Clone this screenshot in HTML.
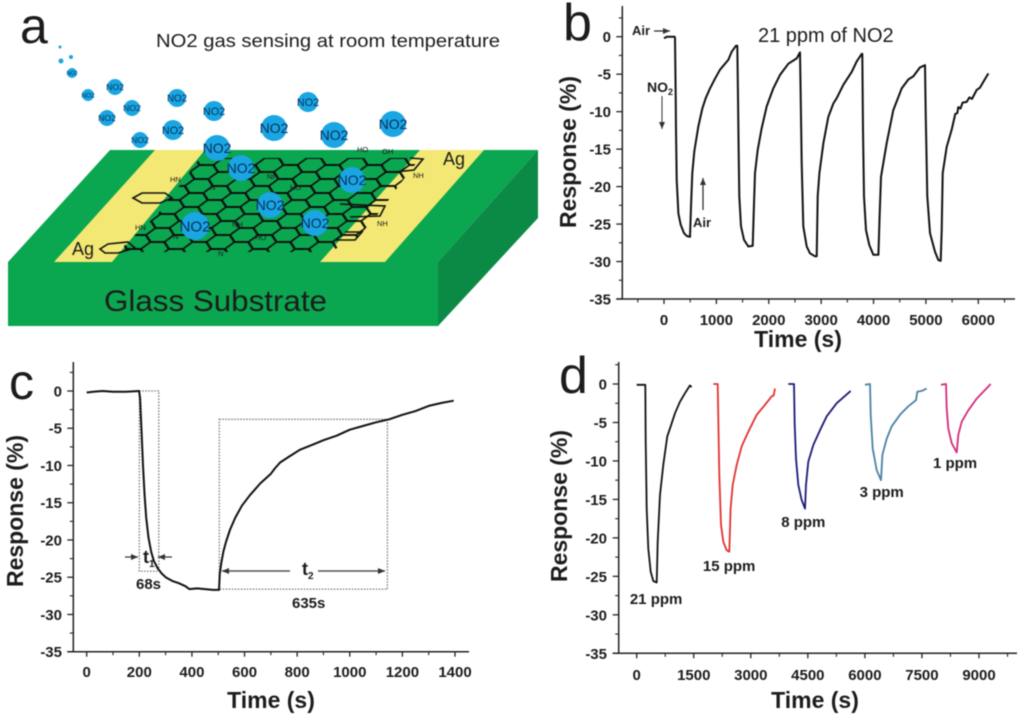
<!DOCTYPE html>
<html lang="en">
<head>
<meta charset="utf-8">
<title>NO2 gas sensing figure</title>
<style>
html,body{margin:0;padding:0;background:#fff;}
body{width:1024px;height:718px;overflow:hidden;}
svg{display:block;filter:blur(0.6px);}
text{font-family:"Liberation Sans",sans-serif;fill:#1c1c1c;}
.b{font-weight:bold;}
</style>
</head>
<body>
<svg id="fig" xmlns="http://www.w3.org/2000/svg" width="1024" height="718" viewBox="0 0 1024 718">
<defs>
<pattern id="hexes" width="42" height="14" patternUnits="userSpaceOnUse" patternTransform="translate(6 158) skewX(-20)">
<path d="M0,7 L7,0 L21,0 L28,7 L21,14 L7,14 Z M28,7 L42,7" fill="none" stroke="#0c0c0c" stroke-width="1.9"/>
</pattern>
<marker id="ah" markerWidth="8" markerHeight="8" refX="7" refY="3" orient="auto" markerUnits="userSpaceOnUse"><path d="M0,0 L7,3 L0,6 Z" fill="#333"/></marker>
</defs>
<rect width="1024" height="718" fill="#fff"/>

<g id="panel-a">
<text x="20" y="43" font-size="50">a</text>
<text x="156" y="47" font-size="18.5" textLength="344" lengthAdjust="spacingAndGlyphs">NO2 gas sensing at room temperature</text>
<polygon points="110,150 538,150 438,262 8,262" fill="#0aa650"/>
<polygon points="8,262 438,262 438,326 8,326" fill="#0aa650"/>
<polygon points="438,262 538,150 538,218 438,326" fill="#0b8a46"/>
<polygon points="155,150 205,150 112,262 54,262" fill="#f3e873"/>
<polygon points="420,150 484,150 385,262 320,262" fill="#f3e873"/>
<polygon points="200,158 420,158 397,188 383,208 360,235 330,252 118,252 140,230 157,215 180,185" fill="url(#hexes)"/>
<path d="M133,198 L142,193 L165,193 L172,198 L160,203 L142,203 Z M100,249 L108,244 L128,242 L135,248 L118,253 L105,253 Z M410,158 L423,159 L414,170 L395,172 M340,204 L385,206 L380,216 L350,217 M345,232 L362,232 L355,240 L335,240" fill="none" stroke="#111" stroke-width="1.6"/>
<text x="443" y="165" font-size="18">Ag</text>
<text x="72" y="255" font-size="18">Ag</text>
<text x="104" y="311" font-size="30" textLength="223" lengthAdjust="spacingAndGlyphs">Glass Substrate</text>
<g font-size="7.5">
<text x="170" y="182">HN</text><text x="267" y="179">NH</text><text x="413" y="178">NH</text>
<text x="377" y="226">NH</text><text x="135" y="230">HN</text><text x="232" y="227">NH</text>
<text x="210" y="190">N</text><text x="173" y="239">N</text><text x="218" y="256">N</text>
<text x="357" y="152">HO</text><text x="382" y="154">OH</text><text x="290" y="190">HO</text><text x="255" y="240">HO</text>
</g>
<g id="molecules"></g>
</g>

<g id="panel-b">
<text x="563" y="40" font-size="52">b</text>
<text x="758" y="42" font-size="20">21 ppm of NO2</text>
<text x="632" y="35" font-size="13" class="b">Air</text>
<line x1="654" y1="31" x2="670" y2="31" stroke="#222" stroke-width="1.2" marker-end="url(#ah)"/>
<text x="647" y="92" font-size="14" class="b">NO<tspan font-size="9" dy="3">2</tspan></text>
<line x1="662" y1="96" x2="662" y2="129" stroke="#333" stroke-width="1" marker-end="url(#ah)"/>
<text x="693" y="227" font-size="13" class="b">Air</text>
<line x1="703" y1="210" x2="703" y2="178" stroke="#222" stroke-width="1.2" marker-end="url(#ah)"/>
</g>

<g id="panel-c">
<text x="9" y="399" font-size="50">c</text>
<text x="143" y="563" font-size="18" class="b">t<tspan font-size="10" dy="4">1</tspan></text>
<line x1="125" y1="557" x2="138" y2="557" stroke="#333" stroke-width="1.2" marker-end="url(#ah)"/>
<line x1="172" y1="557" x2="158" y2="557" stroke="#333" stroke-width="1.2" marker-end="url(#ah)"/>
<text x="136" y="589" font-size="15" class="b">68s</text>
<text x="302" y="575" font-size="18" class="b">t<tspan font-size="10" dy="4">2</tspan></text>
<line x1="290" y1="571" x2="222" y2="571" stroke="#555" stroke-width="1.4" marker-end="url(#ah)"/>
<line x1="318" y1="571" x2="385" y2="571" stroke="#555" stroke-width="1.4" marker-end="url(#ah)"/>
<text x="292" y="608" font-size="15" class="b">635s</text>
</g>

<g id="panel-d">
<text x="559" y="393" font-size="52">d</text>
</g>

<script>
// ---- schematic molecules (not chart data) ----
const moleculeX = [60,71,61,72,88,115,132,107,140,177,214,173,274,308,334,393,217,241,352,270,195,315];
const moleculeY = [47,57,61,73,95,87,108,118,140,98,111,130,128,102,135,124,148,168,180,205,226,223];
const moleculeR = [1.5,2,2.5,5,6,8,8,8,8,9,10,10,13,10,13,13,13,13,13,13,14,13];

// ---- panel b data ----
const bTimes = [0,60,120,205,210,223,229,242,274,318,382,433,496,515,541,579,655,732,796,878,974,1069,1228,1292,1375,1400,
1413,1425,1438,1470,1527,1610,1693,1712,1737,1788,1865,1960,2087,2215,2374,2533,2596,
2609,2628,2660,2724,2787,2883,2915,2934,2966,3042,3137,3233,3296,3424,3583,3678,3774,3786,
3799,3818,3856,3920,3996,4092,4117,4143,4251,4378,4537,4665,4760,4887,4983,
4995,5027,5078,5174,5237,5282,5301,5320,5396,5492,5560,5600,5619,5660,5700,5778,5830,5880,5969,6030,6080,6192];
const bValues = [-0.2,0,0,0,-0.2,-8,-12.4,-19.1,-23.6,-25.1,-26.2,-26.6,-26.7,-22.7,-18.2,-15.3,-12,-9.6,-8.2,-6.9,-5.6,-4.4,-3.1,-2,-1.2,-1.2,
-8,-14.7,-21.3,-25.3,-27.1,-28,-27.9,-23.6,-18.2,-15.1,-12.2,-9.3,-6.9,-5.1,-3.6,-2.9,-2.1,
-8,-16.9,-25.3,-28,-28.9,-29.3,-29.3,-21.3,-18.2,-14.2,-10.7,-8.9,-8.2,-6.4,-4.7,-3.3,-2.3,-2.3,
-12.4,-21.3,-25.8,-27.8,-29.1,-29.1,-23.6,-18.7,-14.2,-9.8,-6.9,-5.7,-5.3,-4.1,-3.8,
-10.2,-21.3,-26.2,-28.7,-29.8,-29.9,-25.8,-18.2,-14.7,-12.4,-10.3,-10.2,-9.4,-9.6,-8.8,-8.7,-8.1,-8.3,-7.1,-6.8,-6.2,-4.9];
const bYTicks = ["0","-5","-10","-15","-20","-25","-30","-35"];
const bXTicks = ["0","1000","2000","3000","4000","5000","6000"];

// ---- panel c data ----
const cTimes = [0,25,60,100,150,199,203,208,214,220,226,235,245,255,270,285,300,325,350,375,390,420,450,480,503,506,512,520,530,545,565,590,620,660,700,715,735,770,810,860,900,950,1000,1050,1100,1150,1200,1250,1300,1350,1395];
const cValues = [-0.2,-0.1,0,-0.1,-0.1,0,-1,-5,-10,-14,-17,-19.7,-21.6,-22.8,-23.8,-24.5,-25,-25.5,-25.8,-26.2,-26.6,-26.5,-26.6,-26.7,-26.7,-24.5,-23,-21.5,-20.2,-18.6,-17,-15.4,-14,-12.4,-11.1,-10.4,-9.6,-8.8,-7.9,-7.2,-6.6,-6,-5.2,-4.7,-4.2,-3.8,-3.2,-2.7,-2,-1.6,-1.3];
const cYTicks = ["0","-5","-10","-15","-20","-25","-30","-35"];
const cXTicks = ["0","200","400","600","800","1000","1200","1400"];
const cBoxT1 = [200,274,0,-24.2];
const cBoxT2 = [504,1143,-3.8,-26.6];

// ---- panel d data ----
const d21Times = [0,100,218,225,236,262,306,367,437,525,551,613,700,805,893,1007,1139,1270,1400,1445];
const d21Values = [-0.1,-0.1,-0.1,-0.1,-7.5,-16.2,-21.4,-24.4,-25.6,-25.8,-20.5,-14.4,-10.5,-6.8,-5.5,-3.8,-2.3,-1.2,-0.2,-0.4];
const d15Times = [2015,2129,2147,2173,2216,2278,2365,2435,2470,2523,2628,2760,2935,3154,3374,3549,3600,3637];
const d15Values = [0,0,-5.3,-11.8,-18.3,-20.5,-21.6,-21.8,-16.2,-13.1,-10.5,-8.1,-6.2,-4,-2.7,-1.6,-1.5,-0.6];
const d8Times = [3987,4136,4154,4189,4250,4338,4425,4452,4513,4645,4820,4995,5258,5626];
const d8Values = [0,0,-5.3,-9.7,-13.1,-15.1,-16.2,-13.1,-10.1,-7.9,-6,-4.2,-2.5,-0.9];
const d3Times = [6003,6135,6152,6205,6310,6424,6459,6573,6704,6923,7142,7344,7379,7493,7625];
const d3Values = [-0.1,0,-4,-8.4,-11.2,-12.5,-9.2,-7.1,-5.5,-4,-2.9,-2.1,-1,-0.9,-0.6];
const d1Times = [8001,8133,8150,8194,8282,8413,8457,8545,8720,8939,9307];
const d1Values = [-0.1,0,-3.2,-5.8,-7.7,-8.9,-6.6,-4.9,-3.4,-1.9,0];
const dYTicks = ["0","-5","-10","-15","-20","-25","-30","-35"];
const dXTicks = ["0","1500","3000","4500","6000","7500","9000"];
const dLabels = ["21 ppm","15 ppm","8 ppm","3 ppm","1 ppm"];
const dLabelTimes = [-180,1740,3800,5860,7790];
const dLabelValues = [-28.6,-24.3,-18.6,-14.7,-10.9];

const NS = 'http://www.w3.org/2000/svg';
function mk(parent, tag, name, props, txt) {
  const el = document.createElementNS(NS, tag);
  for (const k in props) el.setAttribute(k, props[k]);
  
  
  if (txt !== undefined) el.textContent = txt;
  parent.appendChild(el);
  return el;
}

// schematic molecules
const molG = document.getElementById('molecules');
moleculeX.forEach((x, i) => {
  const r = moleculeR[i];
  mk(molG, 'circle', 'no2-molecule', {cx:x, cy:moleculeY[i], r:r, fill:'#19a6e2'});
  if (r >= 5) {
    const fs = r * 1.08;
    mk(molG, 'text', 'no2-molecule-label', {x:x, y:moleculeY[i] + fs * 0.36, 'font-size':fs, 'text-anchor':'middle', style:'fill:#0b2f5c'}, 'NO2');
  }
});

function buildAxes(panel, cfg) {
  const g = document.getElementById(panel);
  const sx = t => cfg.x0 + t * cfg.xScale;
  const sy = v => cfg.y0 - v * cfg.yScale;
  const bottom = sy(-35);
  mk(g, 'line', 'y-axis', {x1:cfg.axisX, x2:cfg.axisX, y1:cfg.top, y2:bottom, stroke:'#222', 'stroke-width':1.5});
  mk(g, 'line', 'x-axis', {x1:cfg.axisX - 6, x2:cfg.right, y1:bottom, y2:bottom, stroke:'#222', 'stroke-width':1.5});
  cfg.yTicks.forEach(lab => {
    const v = Number(lab);
    mk(g, 'line', 'y-tick', {x1:cfg.axisX - 6, x2:cfg.axisX, y1:sy(v), y2:sy(v), stroke:'#222', 'stroke-width':1.3});
    mk(g, 'text', 'y-tick-label', {x:cfg.yLabelX, y:sy(v) + 5.5, 'font-size':15, 'text-anchor':'end', class:'b'}, lab);
  });
  for (let v = 2.5; v >= -32.5; v -= 5) {
    mk(g, 'line', 'y-minor-tick', {x1:cfg.axisX - 3.5, x2:cfg.axisX, y1:sy(v), y2:sy(v), stroke:'#222', 'stroke-width':1.1});
  }
  cfg.xTicks.forEach(lab => {
    const t = Number(lab);
    mk(g, 'line', 'x-tick', {x1:sx(t), x2:sx(t), y1:bottom, y2:bottom + 5, stroke:'#222', 'stroke-width':1.3});
    mk(g, 'text', 'x-tick-label', {x:sx(t), y:cfg.xLabelY, 'font-size':15, 'text-anchor':'middle', class:'b'}, lab);
  });
  const step = Number(cfg.xTicks[1]) / 2;
  for (let t = cfg.minorStart; sx(t) < cfg.right - 2; t += 2 * step) {
    mk(g, 'line', 'x-minor-tick', {x1:sx(t), x2:sx(t), y1:bottom, y2:bottom + 3.5, stroke:'#222', 'stroke-width':1.1});
  }
  mk(g, 'text', 'x-axis-title', {x:cfg.xTitleX, y:cfg.xTitleY, 'font-size':23, 'text-anchor':'middle', class:'b'}, 'Time (s)');
  mk(g, 'text', 'y-axis-title', {x:cfg.yTitleX, y:cfg.yTitleY, 'font-size':23, 'text-anchor':'middle', class:'b', transform:'rotate(-90 ' + cfg.yTitleX + ' ' + cfg.yTitleY + ')'}, 'Response (%)');
  return {g, sx, sy};
}

function drawLine(ax, name, times, values, color, width) {
  const pts = times.map((t, i) => ax.sx(t).toFixed(1) + ',' + ax.sy(values[i]).toFixed(1)).join(' ');
  mk(ax.g, 'polyline', name, {points:pts, fill:'none', stroke:color, 'stroke-width':width, 'stroke-linejoin':'round'});
}

function drawBox(ax, name, box) {
  const x1 = ax.sx(box[0]), x2 = ax.sx(box[1]), y1 = ax.sy(box[2]), y2 = ax.sy(box[3]);
  mk(ax.g, 'rect', name, {x:x1, y:y1, width:x2 - x1, height:y2 - y1, fill:'none', stroke:'#777', 'stroke-width':1.3, 'stroke-dasharray':'1.5 1.5'});
}

// panel b
const axB = buildAxes('panel-b', {x0:664, xScale:314.3/6000, y0:36.7, yScale:262.3/35, axisX:622.3, top:6, right:1015,
  yTicks:bYTicks, xTicks:bXTicks, yLabelX:611, xLabelY:325, minorStart:-500, xTitleX:798, xTitleY:347, yTitleX:576, yTitleY:152});
drawLine(axB, 'response-curve', bTimes, bValues, '#111', 2);

// panel c
const axC = buildAxes('panel-c', {x0:86.7, xScale:368.3/1400, y0:391, yScale:260.7/35, axisX:73.3, top:362, right:469,
  yTicks:cYTicks, xTicks:cXTicks, yLabelX:62, xLabelY:677, minorStart:100, xTitleX:271, xTitleY:708, yTitleX:23, yTitleY:511});
drawBox(axC, 'response-time-box', cBoxT1);
drawBox(axC, 'recovery-time-box', cBoxT2);
drawLine(axC, 'response-curve', cTimes, cValues, '#111', 2);

// panel d
const axD = buildAxes('panel-d', {x0:636.7, xScale:342.3/9000, y0:384, yScale:269.3/35, axisX:618.7, top:362, right:1017,
  yTicks:dYTicks, xTicks:dXTicks, yLabelX:607, xLabelY:680, minorStart:750, xTitleX:815, xTitleY:708, yTitleX:567, yTitleY:506});
drawLine(axD, 'series-21-ppm', d21Times, d21Values, '#111', 1.8);
drawLine(axD, 'series-15-ppm', d15Times, d15Values, '#e2322f', 1.8);
drawLine(axD, 'series-8-ppm', d8Times, d8Values, '#1b1b78', 1.8);
drawLine(axD, 'series-3-ppm', d3Times, d3Values, '#4a82a4', 1.8);
drawLine(axD, 'series-1-ppm', d1Times, d1Values, '#d62a7c', 1.8);
dLabels.forEach((lab, i) => {
  mk(axD.g, 'text', 'series-label', {x:axD.sx(dLabelTimes[i]), y:axD.sy(dLabelValues[i]), 'font-size':15, class:'b'}, lab);
});
</script>
</svg>
</body>
</html>
